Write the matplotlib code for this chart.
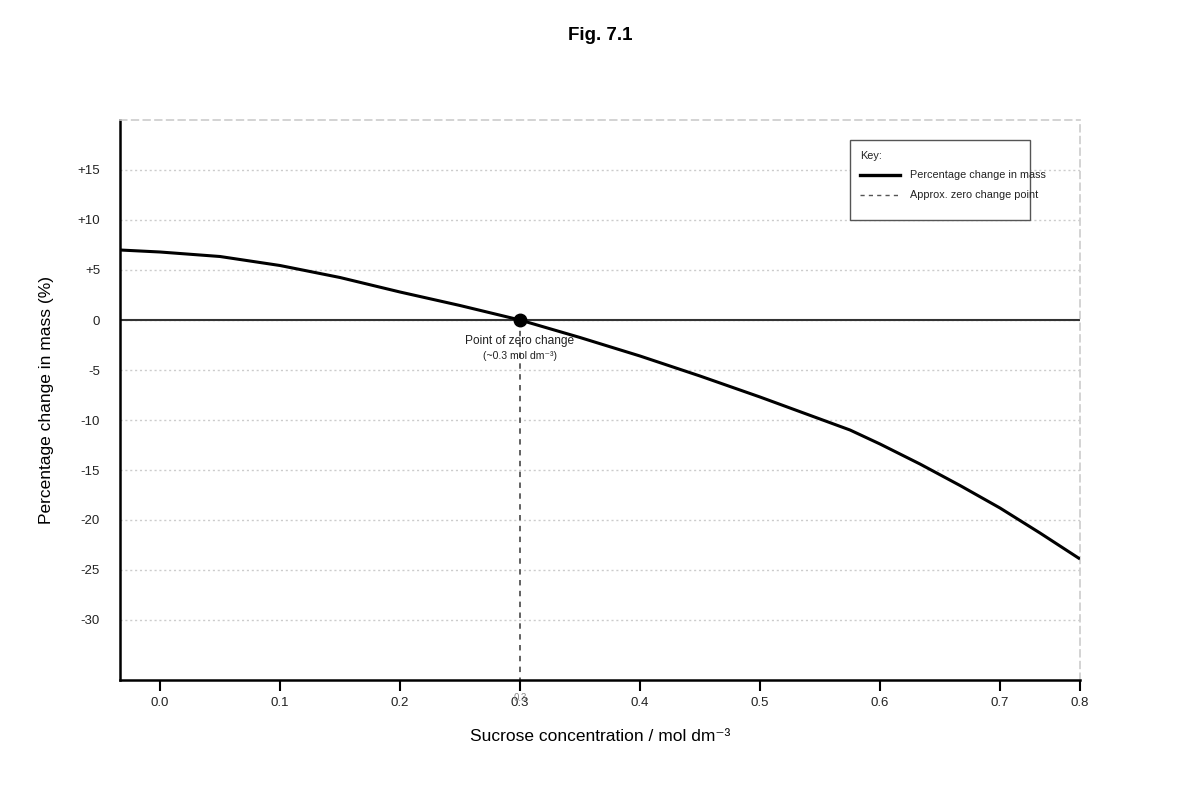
import numpy as np
import matplotlib
matplotlib.use("Agg")
import matplotlib.pyplot as plt
from matplotlib.patches import Rectangle

plt.rcParams['font.family'] = ['Liberation Sans', 'DejaVu Sans']

# values
concentration = np.array([-0.0333, 0.0, 0.05, 0.1, 0.1167, 0.15, 0.2, 0.25, 0.3,
                          0.35, 0.4, 0.45, 0.5, 0.55, 0.575, 0.6, 0.6333, 0.6667,
                          0.7, 0.75, 0.8])
mass_change = np.array([7.0, 6.8, 6.35, 5.45, 5.05, 4.25, 2.8, 1.45, 0.0,
                        -1.75, -3.6, -5.6, -7.7, -9.9, -11.0, -12.4, -14.4, -16.55,
                        -18.8, -21.3, -23.9])

x_ticks = [0.0, 0.1, 0.2, 0.3, 0.4, 0.5, 0.6, 0.7, 0.8]
y_ticks = [15, 10, 5, 0, -5, -10, -15, -20, -25, -30]
y_labels = ['+15', '+10', '+5', '0', '-5', '-10', '-15', '-20', '-25', '-30']
zero_point = 0.3


# the last interval (0.7 - 0.8) is drawn narrower than the others
def fwd(x):
    x = np.asarray(x, dtype=float)
    return np.where(x <= 0.7, x, 0.7 + (x - 0.7) * 2 / 3)


def inv(y):
    y = np.asarray(y, dtype=float)
    return np.where(y <= 0.7, y, 0.7 + (y - 0.7) * 1.5)


fig = plt.figure(figsize=(12, 8), dpi=100)
ax = fig.add_axes([0.1, 0.15, 0.8, 0.7])
ax.set_xscale('function', functions=(fwd, inv))
ax.set_xlim(-0.0333, 0.8)
ax.set_ylim(-36, 20)

# horizontal dotted grid
for yv in y_ticks:
    ax.axhline(yv, color='#cccccc', lw=1, ls=(0, (1.5, 2)), zorder=0)

ax.axhline(0, color='#333333', lw=1.5, zorder=1)
ax.plot([zero_point, zero_point], [0, -36], color='#555555', lw=1.3,
        ls=(0, (3, 3)), zorder=1)

ax.plot(concentration, mass_change, color='black', lw=2.2, zorder=3,
        solid_joinstyle='round', solid_capstyle='butt')
ax.plot([zero_point], [0], 'o', color='black', ms=9, zorder=4)

ax.text(zero_point, -2.1, 'Point of zero change', ha='center', va='center',
        fontsize=8.6, color='#222222', zorder=5)
ax.text(zero_point, -3.6, '(~0.3 mol dm⁻³)', ha='center', va='center',
        fontsize=7.6, color='#222222', zorder=5)

for side in ['left', 'bottom']:
    ax.spines[side].set_linewidth(1.8)
    ax.spines[side].set_color('black')
for side in ['top', 'right']:
    ax.spines[side].set_color('#cccccc')
    ax.spines[side].set_linestyle((0, (4, 3)))
    ax.spines[side].set_linewidth(1.2)

ax.set_xticks(x_ticks)
ax.set_xticklabels([f'{v:.1f}' for v in x_ticks], fontsize=9.5, color='#222222')
ax.set_xticks([], minor=True)
ax.set_yticks(y_ticks)
ax.set_yticklabels(y_labels, fontsize=9.5, color='#222222')
ax.tick_params(axis='x', length=8, width=1.5, pad=4)
ax.tick_params(axis='y', length=0, pad=14.4)

# small grey label under the dashed line
ax.text(zero_point, -37.8, '0.3', ha='center', va='center', fontsize=7,
        color='#888888', clip_on=False)

ax.set_xlabel('Sucrose concentration / mol dm⁻³', fontsize=12.5, labelpad=14.5)
ax.set_ylabel('Percentage change in mass (%)', fontsize=12.5, labelpad=17)

fig.text(0.5, 0.955, 'Fig. 7.1', ha='center', va='center', fontsize=13.5,
         fontweight='bold')

# key box, drawn by hand (its text runs past the frame as in the original)
tr = ax.transAxes
ax.add_patch(Rectangle((0.7604, 0.8214), 0.1875, 0.1429, transform=tr,
                       facecolor='white', edgecolor='#555555', lw=1.0,
                       zorder=6))
ax.text(0.7708, 0.9357, 'Key:', transform=tr, fontsize=7.8, va='center',
        ha='left', color='#222222', zorder=7)
ax.plot([0.7708, 0.8125], [0.9018, 0.9018], transform=tr, color='black',
        lw=2.4, zorder=7)
ax.plot([0.7708, 0.8125], [0.8661, 0.8661], transform=tr, color='#555555',
        lw=1.0, ls=(0, (3, 3)), zorder=7)
ax.text(0.8229, 0.9018, 'Percentage change in mass', transform=tr,
        fontsize=7.8, va='center', ha='left', color='#222222', zorder=7)
ax.text(0.8229, 0.8661, 'Approx. zero change point', transform=tr,
        fontsize=7.8, va='center', ha='left', color='#222222', zorder=7)

fig.savefig('out.png', dpi=100, facecolor='white')
